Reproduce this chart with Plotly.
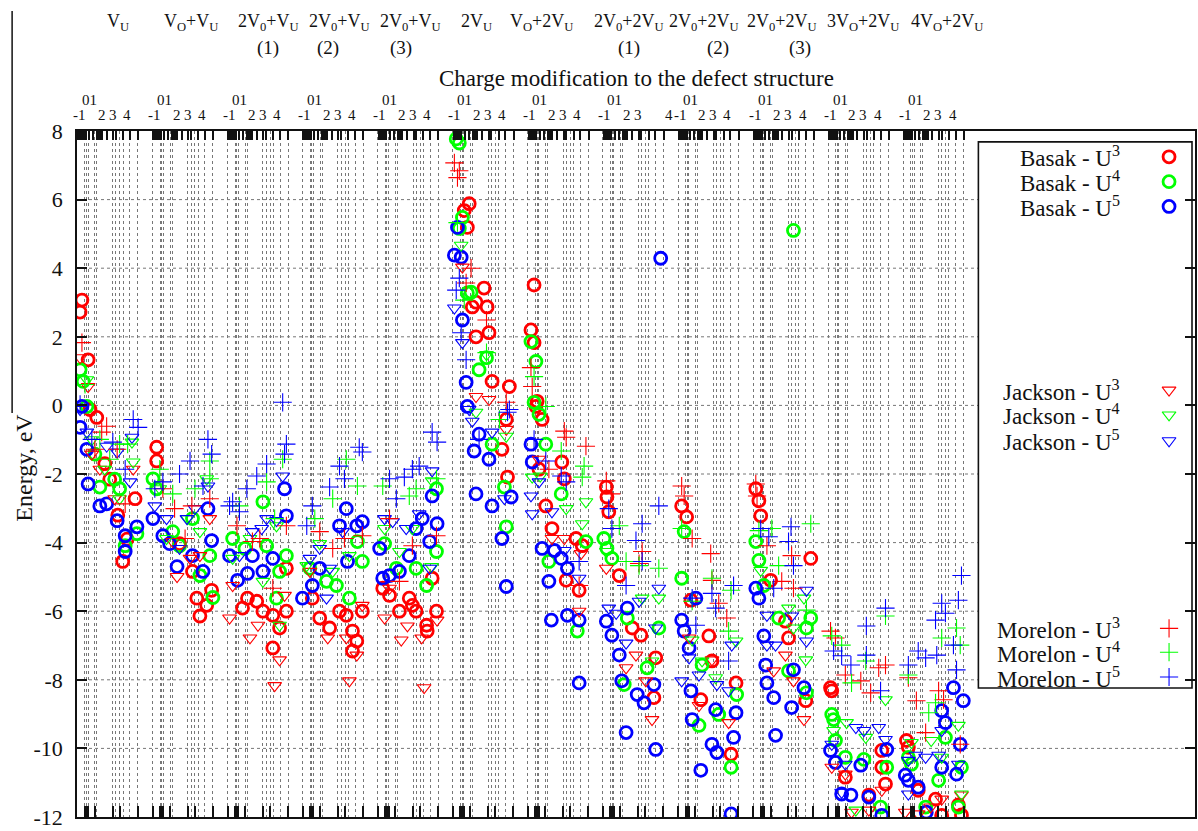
import plotly.graph_objects as go

# ---------------------------------------------------------------- data
# position along the "charge modification" axis (each defect group spans ~12.15 units)
group_names = ["V<sub>U</sub>", "V<sub>O</sub>+V<sub>U</sub>", "2V<sub>0</sub>+V<sub>U</sub>",
               "2V<sub>0</sub>+V<sub>U</sub>", "2V<sub>0</sub>+V<sub>U</sub>", "2V<sub>U</sub>",
               "V<sub>O</sub>+2V<sub>U</sub>", "2V<sub>0</sub>+2V<sub>U</sub>", "2V<sub>0</sub>+2V<sub>U</sub>",
               "2V<sub>0</sub>+2V<sub>U</sub>", "3V<sub>O</sub>+2V<sub>U</sub>", "4V<sub>O</sub>+2V<sub>U</sub>"]
group_name_pos = [6.6, 18.4, 31.0, 42.5, 54.0, 64.6, 75.2, 89.4, 101.5, 114.1, 127.2, 140.8]
group_variants = ["", "", "(1)", "(2)", "(3)", "", "", "(1)", "(2)", "(3)", "", ""]
group_variant_pos = [None, None, 30.9, 40.6, 52.4, None, None, 89.4, 103.8, 117.0, None, None]
charge_labels = ["-1", "01", "2", "3", "4"]
energy_ticks = [-12, -10, -8, -6, -4, -2, 0, 2, 4, 6, 8]
energy_tick_text = ["-12", "-10", "-8", "-6", "-4", "-2", "0", "2", "4", "6", "8"]

basak_u3 = [
    (0.8, 3.07), (0.5, 2.72), (1.8, 1.33), (2.1, -0.12), (3.2, -0.35), (4.5, -1.70), (5.3, -2.15), (7.4, -4.55),
    (9.4, -2.72), (6.6, -3.20), (8.1, -3.90),
    (12.9, -1.22), (12.9, -1.62), (18.7, -4.84), (19.4, -5.62), (19.9, -6.14), (21.8, -5.39), (21.0, -5.83), (16.6, -4.03),
    (27.6, -5.62), (29.1, -5.71), (30.1, -6.00), (31.7, -6.12), (32.8, -6.49), (33.9, -6.00), (31.7, -7.07), (33.9, -4.75), (26.8, -5.91),
    (39.3, -6.20), (40.9, -6.49), (43.6, -6.12), (44.6, -6.58), (45.3, -6.87), (44.6, -7.16), (46.2, -6.00), (38.1, -5.62), (42.5, -6.00),
    (50.6, -5.54), (52.2, -6.00), (53.8, -5.62), (54.9, -6.00), (56.6, -6.41), (56.7, -6.58), (58.2, -6.00), (57.5, -5.04), (54.3, -5.83), (49.5, -5.33),
    (63.5, 5.88), (62.7, 5.68), (63.2, 5.19), (65.9, 3.42), (64.6, 3.01), (66.4, 2.87), (64.0, 2.87), (66.7, 2.12), (64.6, 2.00),
    (67.2, 0.70), (70.0, 0.55), (69.5, -0.41), (68.8, -1.28), (69.7, -2.09),
    (74.0, 3.51), (73.5, 2.20), (74.0, 1.83), (74.5, 0.12), (74.3, -0.03), (75.3, -0.41), (74.8, -1.86), (75.9, -2.93), (78.5, -1.65),
    (78.9, -2.14), (80.8, -3.88), (81.8, -4.09), (81.3, -5.39), (79.2, -5.10), (76.9, -3.59),
    (85.7, -2.38), (85.8, -2.67), (86.1, -3.10), (87.8, -4.96), (91.3, -6.70), (93.7, -7.36), (93.4, -8.52), (89.9, -6.49),
    (97.9, -2.93), (98.7, -3.25), (99.4, -5.68), (102.3, -6.72), (101.0, -8.58), (105.9, -10.17), (106.7, -8.09), (102.8, -7.45),
    (109.9, -2.43), (110.4, -2.78), (110.7, -3.22), (112.3, -5.10), (114.7, -6.29), (115.2, -6.78), (118.8, -4.46), (118.0, -8.61),
    (122.0, -8.23), (122.2, -8.32), (130.3, -10.55), (130.9, -11.04), (128.2, -11.36), (124.4, -10.84), (130.3, -10.06),
    (134.3, -9.77), (134.6, -9.97), (139.0, -11.48), (140.0, -11.95), (142.7, -11.65), (143.2, -11.94), (136.2, -11.22),
]
basak_u4 = [
    (0.5, 1.04), (1.0, 0.70), (1.6, -0.03), (3.7, -2.38), (6.1, -2.15), (6.9, -2.43), (9.7, -3.74), (7.8, -4.09), (2.9, -1.42),
    (12.3, -2.14), (12.9, -2.43), (15.5, -3.68), (18.7, -3.30), (19.9, -4.96), (21.5, -4.38), (16.6, -4.09), (22.0, -5.60),
    (25.2, -3.88), (30.7, -4.09), (32.3, -5.62), (33.9, -4.38), (30.1, -2.81), (32.8, -4.84), (27.2, -4.17),
    (37.7, -4.75), (42.0, -5.25), (44.1, -5.62), (46.2, -4.55), (45.4, -3.97), (40.4, -5.13),
    (58.2, -2.43), (58.2, -4.26), (54.9, -4.75), (56.6, -5.25), (51.7, -4.75), (49.8, -4.03),
    (61.4, 7.77), (61.9, 7.65), (62.4, 5.48), (61.9, 5.16), (63.2, 3.28), (63.8, 3.30), (66.3, 1.39), (67.2, -1.13), (69.5, -3.54),
    (69.2, -2.38), (65.1, 1.04),
    (73.5, 1.86), (74.3, 1.28), (74.0, 0.09), (75.9, -1.13), (78.4, -2.58), (81.0, -6.58), (82.4, -3.97), (76.4, -4.55), (74.8, -0.26),
    (85.3, -3.88), (85.8, -4.17), (86.6, -4.46), (89.1, -6.20), (94.2, -6.49), (88.6, -8.14), (92.3, -7.65),
    (97.9, -5.04), (98.3, -3.68), (100.7, -9.33), (103.9, -9.01), (105.9, -10.55), (106.8, -8.43), (101.2, -7.57),
    (109.9, -3.97), (110.4, -4.52), (111.2, -5.25), (113.6, -6.20), (115.2, -7.74), (118.1, -6.49), (118.8, -6.20), (118.1, -8.38), (116.0, 5.10),
    (122.2, -9.01), (122.5, -9.16), (122.8, -9.77), (124.4, -10.26), (127.4, -10.32), (130.1, -11.71), (131.1, -10.55),
    (134.6, -10.26), (135.1, -10.46), (137.4, -11.71), (139.5, -10.93), (140.6, -9.68), (143.2, -10.55), (142.7, -11.71),
]
basak_u5 = [
    (0.8, -0.03), (0.5, -0.64), (1.6, -1.28), (1.8, -2.29), (3.7, -2.93), (4.8, -2.87), (6.5, -3.36), (7.8, -3.80), (7.8, -4.26), (9.7, -3.54),
    (12.3, -3.30), (13.9, -3.80), (16.2, -4.70), (20.4, -4.84), (21.8, -3.94), (21.2, -3.01), (18.7, -4.38), (15.0, -4.03),
    (24.7, -4.38), (26.0, -5.10), (27.6, -4.90), (30.1, -4.84), (31.7, -4.46), (33.6, -2.43), (33.9, -3.22), (28.4, -4.38),
    (36.5, -5.62), (38.1, -5.25), (43.8, -4.55), (45.3, -3.51), (43.6, -3.01), (46.2, -3.39), (42.5, -3.51), (39.3, -4.75),
    (49.0, -4.17), (52.2, -4.84), (50.6, -4.96), (55.9, -3.30), (57.5, -2.64), (58.3, -3.45), (57.1, -3.97), (53.8, -4.38), (54.9, -3.59), (49.5, -5.04),
    (61.6, 5.19), (61.1, 4.38), (62.2, 4.32), (63.0, 0.67), (63.2, -0.03), (62.4, 2.49), (64.3, -1.33), (65.1, -0.84), (66.7, -1.57),
    (64.6, -2.58), (67.2, -2.93), (68.8, -3.88), (69.5, -5.28), (70.3, -2.67),
    (73.7, -1.65), (75.3, -4.17), (76.4, -5.13), (76.8, -6.26), (78.4, -4.46), (79.4, -4.75), (79.4, -6.12), (81.3, -8.09), (81.3, -6.26),
    (77.3, -4.23), (73.5, -1.13),
    (85.7, -6.29), (86.6, -6.70), (87.8, -7.28), (88.2, -8.03), (88.9, -9.54), (90.7, -8.43), (91.8, -8.67), (93.7, -10.03), (93.4, -8.14),
    (89.1, -5.91), (94.5, 4.29),
    (97.9, -6.26), (98.3, -6.58), (99.1, -7.07), (99.4, -8.32), (99.6, -9.16), (101.0, -10.64), (102.8, -9.88), (103.6, -10.12),
    (103.4, -8.87), (106.7, -8.96), (106.3, -9.68), (105.9, -11.91), (100.2, -5.62),
    (109.9, -5.33), (110.4, -5.62), (111.2, -6.72), (111.5, -7.57), (111.7, -8.09), (112.8, -8.52), (113.1, -9.62), (115.7, -8.81),
    (116.0, -7.71), (117.7, -8.23),
    (122.0, -10.06), (122.8, -10.41), (123.8, -11.33), (125.3, -11.36), (126.9, -10.49), (128.2, -11.42), (130.3, -11.95), (131.1, -10.03),
    (134.1, -10.78), (134.6, -10.93), (136.2, -11.13), (137.5, -11.86), (140.0, -8.90), (140.6, -9.25), (141.9, -8.23), (143.0, -9.88),
    (143.5, -8.61), (142.4, -10.75), (140.0, -10.55),
]
jackson_u3 = [
    (0.5, 1.39), (1.8, 0.55), (3.7, -1.86), (9.1, -1.86), (2.4, -1.42), (6.1, -2.72),
    (16.2, -4.99), (18.3, -4.46), (15.5, -3.97), (19.9, -4.38), (21.5, -3.30),
    (24.7, -6.20), (25.2, -5.25), (28.0, -6.78), (29.3, -6.41), (32.8, -7.42), (32.0, -8.17), (33.6, -5.54),
    (40.6, -6.78), (43.6, -6.78), (44.1, -8.03), (45.3, -7.28), (37.7, -4.84), (46.2, -5.83),
    (49.8, -6.20), (52.5, -6.84), (53.5, -6.43), (55.8, -6.78), (56.2, -8.23), (58.3, -6.26), (50.6, -5.33),
    (62.4, 4.03), (64.6, 0.26), (69.5, -0.70), (66.7, 0.17),
    (78.9, -3.88), (81.6, -4.32), (81.3, -6.00), (76.9, -3.88), (74.8, -1.57),
    (85.7, -4.75), (88.9, -7.65), (90.5, -7.28), (93.1, -9.16), (92.1, -8.03),
    (100.7, -8.75), (102.8, -7.42), (105.5, -9.25), (99.1, -6.78),
    (112.8, -7.74), (116.0, -8.03), (117.7, -9.16), (114.7, -7.28),
    (122.2, -10.55), (124.4, -10.75), (125.4, -11.86), (128.2, -11.80), (130.3, -11.22),
    (134.1, -11.86), (136.2, -11.91), (140.0, -11.48), (143.2, -11.36), (138.2, -11.71),
]
jackson_u4 = [
    (1.6, 0.75), (8.9, -1.07), (9.1, -1.65), (2.4, -1.00), (6.9, -2.72), (4.5, -1.86),
    (21.0, -2.14), (14.5, -3.88), (19.9, -3.68), (13.4, -2.43), (17.9, -3.30),
    (32.8, -6.41), (25.2, -4.46), (30.1, -5.13), (32.3, -3.51), (28.0, -3.88),
    (37.2, -4.67), (41.4, -4.84), (44.1, -4.38), (39.3, -4.03),
    (57.5, -2.20), (52.2, -4.26), (54.3, -3.59), (57.4, -4.70), (49.8, -3.59),
    (66.3, 1.48), (69.5, -0.90), (64.6, -0.20), (62.2, 4.67),
    (73.7, -2.09), (79.2, -3.01), (81.8, -3.45), (82.4, -2.81), (75.0, -2.06),
    (85.7, -4.26), (91.5, -5.62), (94.2, -5.62), (93.1, -7.45),
    (99.6, -6.84), (103.4, -7.94), (106.7, -6.87), (101.2, -7.45),
    (110.7, -4.81), (115.2, -5.91), (117.7, -5.62), (118.0, -7.42), (116.0, -6.49),
    (122.5, -9.48), (124.6, -9.25), (127.7, -9.68), (130.9, -8.58), (126.1, -11.80),
    (135.1, -9.83), (138.3, -9.77), (140.0, -10.26), (142.7, -9.33), (143.2, -11.33),
]
jackson_u5 = [
    (1.6, -0.78), (4.8, -1.19), (8.9, -0.93), (8.6, -2.23), (6.5, -1.36), (0.5, -0.12),
    (12.6, -2.93), (14.5, -3.30), (17.8, -3.30), (21.2, -2.35), (16.6, -4.17), (19.1, -3.01),
    (30.7, -3.30), (33.3, -2.06), (26.3, -4.38), (28.4, -3.68), (32.3, -3.36), (29.9, -3.59),
    (37.7, -4.46), (40.4, -5.62), (39.3, -4.17), (43.0, -3.68), (40.9, -4.75),
    (57.5, -1.91), (51.1, -3.39), (53.3, -3.59), (55.4, -3.16), (57.1, -4.75), (49.8, -3.30),
    (61.1, 2.84), (62.4, 1.83), (64.0, -0.46), (67.2, -0.78), (69.2, -2.72), (63.5, -0.12),
    (73.5, -2.64), (73.7, -3.16), (76.9, -3.10), (78.9, -4.23), (81.3, -5.04), (74.8, -2.23),
    (86.1, -5.91), (87.3, -6.06), (88.9, -6.93), (91.0, -5.71), (94.2, -5.33), (93.7, -6.49),
    (97.9, -8.03), (99.1, -7.36), (100.7, -7.86), (103.6, -8.14), (106.0, -6.99), (105.5, -8.32),
    (111.7, -6.12), (111.7, -6.99), (113.1, -6.99), (115.7, -6.14), (118.1, -5.39), (118.1, -6.87),
    (122.2, -9.88), (124.4, -10.46), (126.1, -9.39), (127.4, -9.48), (129.8, -9.39), (130.9, -9.74), (123.8, -11.28),
    (134.6, -10.35), (135.8, -10.20), (137.4, -10.26), (139.5, -10.20), (140.0, -9.48), (142.7, -10.46), (134.6, -11.33),
]
morelon_u3 = [
    (0.8, 1.83), (4.8, -0.61), (4.0, -0.78), (6.5, -1.28), (7.8, -2.87), (2.9, -1.28),
    (13.9, -2.43), (18.6, -2.93), (21.5, -2.72), (15.8, -3.01), (17.5, -3.88),
    (25.9, -3.51), (31.7, -5.33), (33.9, -3.51), (28.4, -3.97), (29.6, -3.88),
    (46.2, -3.80), (39.3, -3.68), (41.4, -4.17), (43.3, -3.88),
    (52.2, -5.13), (58.2, -3.80), (54.3, -4.09), (50.6, -3.30),
    (61.1, 7.07), (61.9, 6.84), (61.6, 6.64), (63.8, 4.00), (63.0, 3.57), (66.3, 2.49), (69.5, 0.09),
    (73.5, 1.10), (73.7, 0.55), (78.9, -0.75), (79.2, -0.93), (82.4, -1.19), (81.3, -5.25), (76.4, -1.86),
    (85.7, -2.20), (91.5, -4.26), (91.0, -4.61), (86.5, -2.58),
    (97.9, -2.35), (98.3, -2.64), (99.6, -3.88), (102.6, -4.32), (102.8, -5.10), (105.2, -6.20), (103.9, -5.77),
    (109.9, -2.29), (110.1, -2.64), (111.7, -4.09), (115.7, -4.38), (116.0, -5.33), (114.1, -5.13),
    (122.0, -6.58), (122.8, -6.78), (124.4, -7.86), (126.9, -8.03), (128.5, -8.38), (129.8, -7.65), (130.9, -7.57),
    (134.6, -7.94), (135.9, -8.61), (137.4, -9.54), (139.5, -8.32), (140.3, -8.58), (143.0, -9.88),
]
morelon_u4 = [
    (1.3, 0.61), (3.7, -0.99), (6.9, -1.13), (8.2, -1.13), (5.3, -1.57),
    (21.5, -1.62), (15.5, -2.58), (21.5, -2.14), (13.4, -1.86), (19.1, -2.43),
    (30.7, -2.23), (33.3, -1.57), (26.3, -2.93), (32.0, -3.30),
    (45.4, -2.35), (41.4, -2.72), (43.6, -1.57), (38.5, -3.30),
    (49.5, -2.35), (54.9, -2.43), (53.8, -2.64), (58.2, -2.14),
    (61.6, 5.33), (66.3, 1.54), (62.7, 3.07), (68.4, -0.41),
    (74.0, 0.84), (78.4, -1.33), (82.1, -1.77), (81.8, -2.09), (75.9, -0.03),
    (87.8, -3.51), (94.2, -4.75), (91.0, -4.67), (88.9, -4.55),
    (97.9, -3.59), (102.8, -5.04), (105.9, -5.39), (105.5, -6.58), (99.6, -5.71),
    (110.4, -3.65), (113.6, -4.67), (118.8, -3.45), (118.1, -5.97), (112.5, -3.59),
    (122.2, -6.72), (123.8, -6.99), (125.4, -8.09), (130.9, -6.14), (127.7, -7.45),
    (134.6, -7.86), (137.9, -8.96), (140.0, -6.78), (142.4, -6.49), (143.0, -6.99), (139.0, -8.67),
]
morelon_u5 = [
    (9.1, -0.41), (9.9, -0.64), (7.8, -1.86), (5.8, -1.07), (0.5, 0.03), (2.4, -0.99),
    (21.2, -0.99), (21.8, -1.42), (18.3, -1.62), (16.6, -2.00), (13.9, -2.23), (20.4, -2.35), (12.6, -2.43),
    (24.7, -2.93), (25.2, -2.81), (26.3, -3.10), (27.5, -2.43), (29.1, -2.06), (30.7, -1.71), (33.9, -1.13), (33.6, -1.42), (33.3, 0.09),
    (37.2, -3.51), (38.1, -2.93), (40.9, -2.38), (42.5, -1.77), (43.3, -2.14), (45.7, -1.22), (46.2, -1.36),
    (57.5, -0.78), (58.3, -1.07), (54.3, -1.86), (55.4, -1.77), (53.0, -2.09), (50.6, -2.14), (51.7, -2.72),
    (61.9, 3.71), (61.4, 3.36), (62.2, 2.12), (63.0, 1.33), (70.0, -0.12), (69.7, -0.20), (65.1, -0.99),
    (78.4, -2.06), (81.3, -4.55), (75.9, -1.62), (79.2, -2.23), (74.0, -0.99),
    (86.1, -3.01), (86.6, -3.59), (94.2, -2.93), (91.5, -3.45), (90.5, -3.94), (91.5, -4.55), (88.9, -5.25),
    (99.6, -5.62), (102.8, -5.48), (103.4, -5.91), (106.3, -5.25), (105.5, -7.45), (100.2, -6.41),
    (110.7, -3.59), (112.0, -3.83), (115.6, -3.54), (115.2, -3.97), (116.0, -4.67), (112.8, -5.33),
    (122.5, -7.16), (123.8, -7.30), (125.3, -7.57), (127.8, -6.43), (127.8, -7.28), (130.9, -5.91), (130.1, -8.32),
    (134.6, -7.57), (136.2, -7.16), (137.4, -7.36), (139.2, -7.28), (140.0, -5.77), (140.6, -6.06), (142.7, -5.68),
    (143.2, -4.96), (141.9, -6.99), (142.4, -7.71), (139.0, -6.26),
]

# ---------------------------------------------------------------- layout constants
W, H = 1198, 831
ML, MR, MT, MB = 77, 1, 131, 9
PW, PH = W - ML - MR, H - MT - MB
PX_PER_UNIT = 6.1875
X_MAX = PW / PX_PER_UNIT
GROUP_W = 75.2 / PX_PER_UNIT
Y_MIN, Y_MAX = -12, 8
FONT = "Liberation Serif, Times New Roman, DejaVu Serif, serif"
INK = "#111111"
RED, GREEN, BLUE = "#ff0000", "#00ff00", "#0000ff"

bottom_tick_px = [0.5, 8, 9.7, 11.3, 18, 35.8, 43, 61]
extra_grid_px = [20, 39, 46.3, 53]
top_tick_px = [1.3, 3, 4.5, 6, 7.5, 9, 12.3, 16.3, 20.3, 22, 23.7, 25, 29.7, 36.3, 39, 46.3, 53, 61.3]
charge_label_px = [2.5, 12.5, 24.7, 35.7, 50]


def gx(g, off_px):
    return g * GROUP_W + off_px / PX_PER_UNIT


def paper_x(px):
    return (px - ML) / PW


def paper_y(py):
    return (H - MB - py) / PH


def yval(py):
    return Y_MAX - (py - MT) / PH * (Y_MAX - Y_MIN)


n_groups = len(group_names)
bottom_ticks = [gx(g, o) for g in range(n_groups) for o in bottom_tick_px if gx(g, o) < X_MAX]
extra_grid = [gx(g, o) for g in range(n_groups) for o in extra_grid_px]
top_ticks = [gx(g, o) for g in range(n_groups) for o in top_tick_px]

series = [
    ("Basak - U<sup>3</sup>", basak_u3, "circle-open", RED),
    ("Basak - U<sup>4</sup>", basak_u4, "circle-open", GREEN),
    ("Basak - U<sup>5</sup>", basak_u5, "circle-open", BLUE),
    ("Jackson - U<sup>3</sup>", jackson_u3, "triangle-down-open", RED),
    ("Jackson - U<sup>4</sup>", jackson_u4, "triangle-down-open", GREEN),
    ("Jackson - U<sup>5</sup>", jackson_u5, "triangle-down-open", BLUE),
    ("Morelon - U<sup>3</sup>", morelon_u3, "cross-thin-open", RED),
    ("Morelon - U<sup>4</sup>", morelon_u4, "cross-thin-open", GREEN),
    ("Morelon - U<sup>5</sup>", morelon_u5, "cross-thin-open", BLUE),
]
legend_rows_py = [157, 182, 207, 392, 417, 443, 632, 656, 681]
LEG_MARK_X = (1171 - ML) / PX_PER_UNIT
LEG_TEXT_PX = 1124


def marker_style(sym, col):
    if sym == "circle-open":
        return dict(symbol=sym, size=12, color=col, line=dict(color=col, width=2.8))
    if sym == "triangle-down-open":
        return dict(symbol=sym, size=12, color=col, line=dict(color=col, width=1.1))
    return dict(symbol=sym, size=13, color=col, line=dict(color=col, width=1.1))


fig = go.Figure()
for name, pts, sym, col in series:
    fig.add_trace(go.Scatter(
        x=[p[0] for p in pts], y=[p[1] for p in pts], mode="markers",
        marker=marker_style(sym, col), name=name, showlegend=False, hoverinfo="skip"))

# legend samples (manual legend, text on the left, symbol on the right)
annotations = []
for (name, pts, sym, col), py in zip(series, legend_rows_py):
    fig.add_trace(go.Scatter(x=[LEG_MARK_X], y=[yval(py)], mode="markers",
                             marker=marker_style(sym, col), showlegend=False, hoverinfo="skip"))
    annotations.append(dict(text=name, xref="paper", yref="y", x=paper_x(LEG_TEXT_PX), y=yval(py),
                            xanchor="right", yanchor="middle", showarrow=False,
                            font=dict(family=FONT, size=23, color=INK)))

# invisible helper trace so the top (x2) tick axis is rendered
fig.add_trace(go.Scatter(x=[0], y=[0], xaxis="x2", mode="markers", marker=dict(opacity=0),
                         showlegend=False, hoverinfo="skip"))

# ---------------------------------------------------------------- top labels
for g in range(n_groups):
    annotations.append(dict(text=group_names[g], xref="x", yref="paper", x=group_name_pos[g],
                            y=paper_y(22), showarrow=False, xanchor="center", yanchor="middle",
                            font=dict(family=FONT, size=18, color=INK)))
    if group_variants[g]:
        annotations.append(dict(text=group_variants[g], xref="x", yref="paper", x=group_variant_pos[g],
                                y=paper_y(47), showarrow=False, xanchor="center", yanchor="middle",
                                font=dict(family=FONT, size=19, color=INK)))
    labels = charge_labels if g != 7 else charge_labels[:4]
    for lab, off in zip(labels, charge_label_px):
        py = 100 if lab == "01" else 115
        annotations.append(dict(text=lab, xref="x", yref="paper", x=gx(g, off), y=paper_y(py),
                                showarrow=False, xanchor="center", yanchor="middle",
                                font=dict(family=FONT, size=15, color=INK)))
# the displaced "4" label of the 2V0+2VU (1) group
annotations.append(dict(text="4", xref="x", yref="paper", x=gx(8, -8.5), y=paper_y(115),
                        showarrow=False, xanchor="center", yanchor="middle", borderpad=0,
                        font=dict(family=FONT, size=15, color=INK)))

annotations.append(dict(text="Charge modification to the defect structure", xref="paper", yref="paper",
                        x=0.5, y=paper_y(78), showarrow=False, xanchor="center", yanchor="middle",
                        font=dict(family=FONT, size=23, color=INK)))
annotations.append(dict(text="Energy, eV", xref="paper", yref="paper", x=paper_x(23), y=paper_y(470),
                        textangle=-90, showarrow=False, xanchor="center", yanchor="middle",
                        font=dict(family=FONT, size=24, color=INK)))

# ---------------------------------------------------------------- shapes
shapes = []
legend_left_x = (980 - ML) / PX_PER_UNIT
for v in energy_ticks[1:-1]:
    py = MT + (Y_MAX - v) / (Y_MAX - Y_MIN) * PH
    x1 = legend_left_x if 142 <= py <= 692 else X_MAX
    shapes.append(dict(type="line", xref="x", yref="y", x0=0, x1=x1, y0=v, y1=v, layer="below",
                       line=dict(color="#777", width=1, dash="dot")))
shapes.append(dict(type="rect", xref="paper", yref="paper", x0=paper_x(980), x1=paper_x(1194),
                   y0=paper_y(692), y1=paper_y(142), line=dict(color=INK, width=1.6)))
shapes.append(dict(type="line", xref="paper", yref="paper", x0=paper_x(12), x1=paper_x(12),
                   y0=paper_y(10), y1=paper_y(415), line=dict(color=INK, width=1.5)))

fig.update_layout(
    width=W, height=H, margin=dict(l=ML, r=MR, t=MT, b=MB),
    paper_bgcolor="white", plot_bgcolor="white",
    font=dict(family=FONT, color=INK),
    annotations=annotations, shapes=shapes, showlegend=False,
    xaxis=dict(range=[0, X_MAX], tickmode="array", tickvals=bottom_ticks, ticks="inside", ticklen=11,
               tickwidth=1.5, tickcolor=INK, showticklabels=False, showgrid=True, gridcolor="#777",
               griddash="dot", gridwidth=1, zeroline=False, showline=True, linecolor=INK, linewidth=1.6,
               mirror=True,
               minor=dict(tickmode="array", tickvals=extra_grid, ticks="", showgrid=True,
                          gridcolor="#777", griddash="dot", gridwidth=1)),
    xaxis2=dict(range=[0, X_MAX], overlaying="x", side="top", anchor="y", tickmode="array",
                tickvals=top_ticks, ticks="inside", ticklen=9, tickwidth=1.5, tickcolor=INK,
                showticklabels=False, showgrid=False, zeroline=False, showline=False),
    yaxis=dict(range=[Y_MIN, Y_MAX], tickmode="array", tickvals=energy_ticks, ticktext=energy_tick_text,
               ticks="inside", ticklen=10, tickwidth=1.5, tickcolor=INK, showgrid=False,
               zeroline=False, showline=True, linecolor=INK, linewidth=1.6, mirror="ticks",
               ticklabelstandoff=8, ticklabeloverflow="allow",
               tickfont=dict(family=FONT, size=22, color=INK)),
)

fig.write_html("out.html")
